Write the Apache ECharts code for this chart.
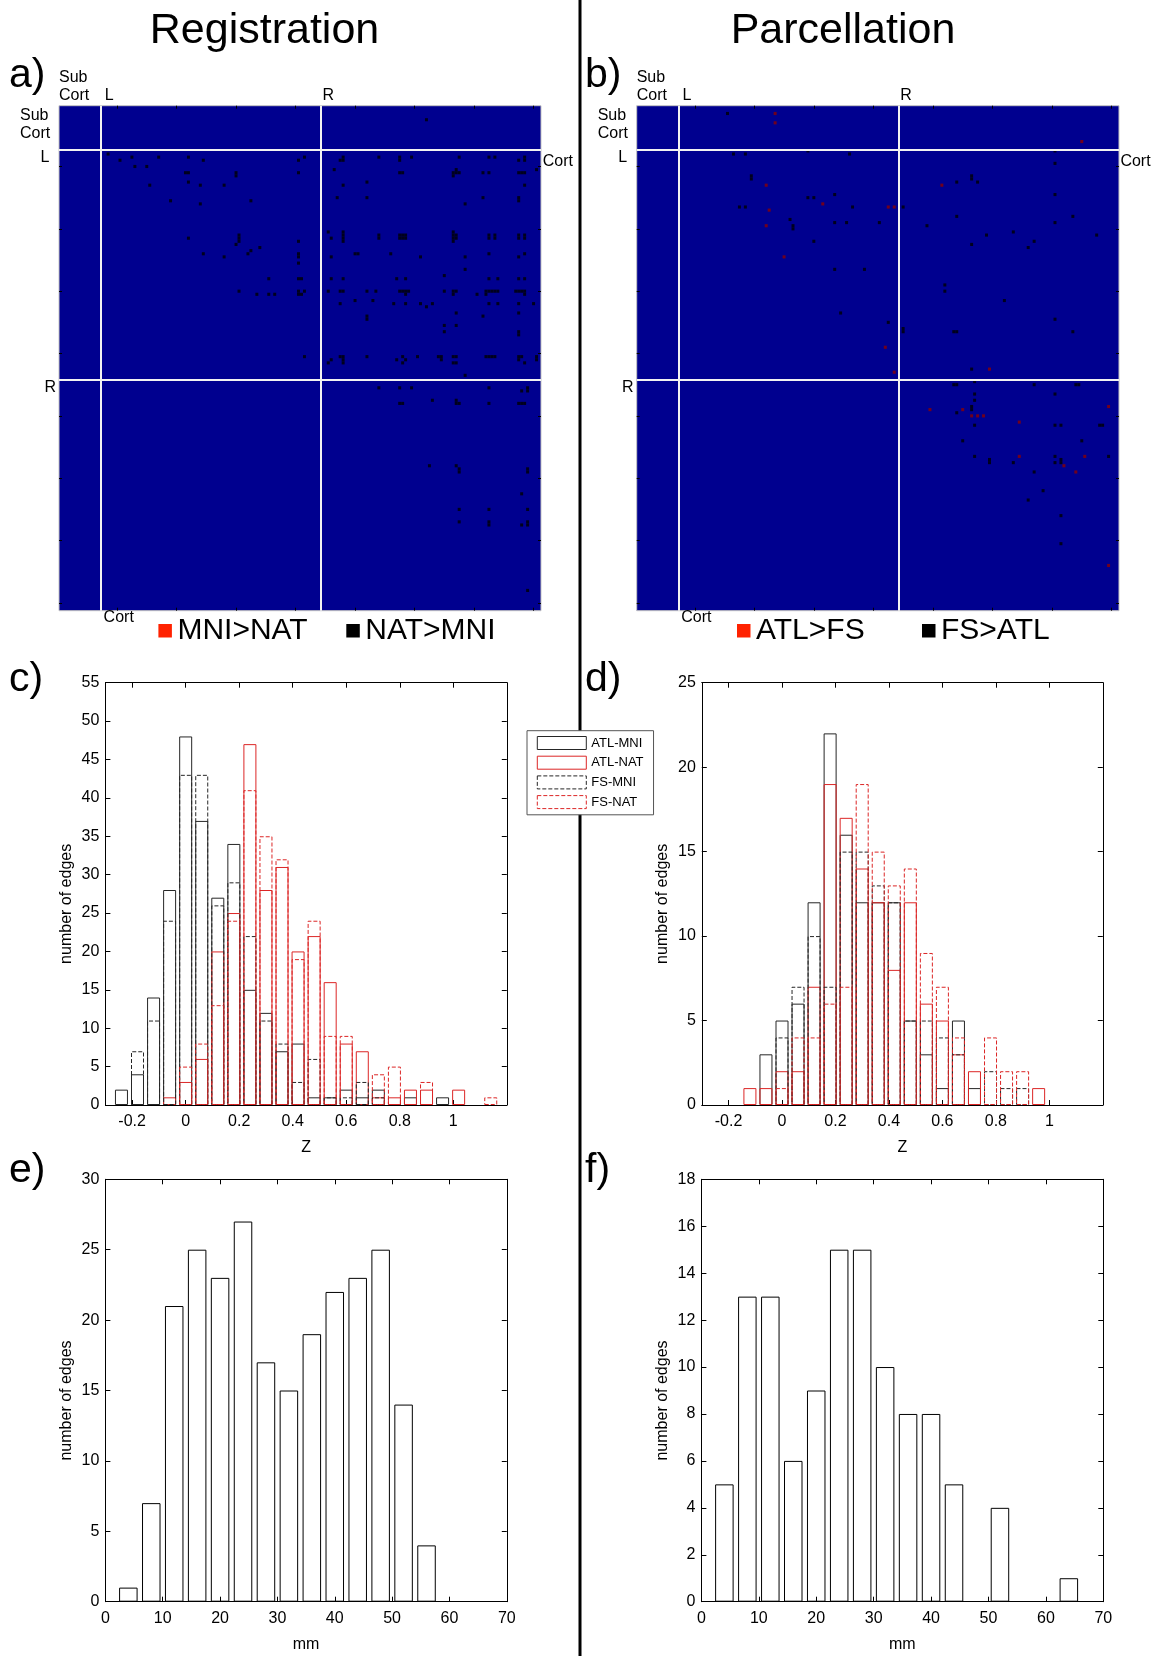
<!DOCTYPE html>
<html><head><meta charset="utf-8">
<script src="https://cdn.jsdelivr.net/npm/echarts@6/dist/echarts.min.js"></script>
<style>html,body{margin:0;padding:0;background:#fff}#chart{width:1155px;height:1656px}</style>
</head><body><div id="chart"></div>
<script>
// ---------------- DATA ----------------
const matrixSize = 162;              // 14 subcortical + 74 L + 74 R regions
const blockEdges = [14, 88];
const matrixTicks = [19.5, 39.5, 59.5, 79.5, 99.5, 119.5, 139.5, 159.5];

// panel a : [row, col] of significant edges
const regMniGtNat = [];
const regNatGtMni = [
[4,123],[15,16],
[16,24],[16,33],[16,43],[16,82],[16,95],[16,107],[16,114],[16,118],[16,134],[16,144],[16,146],[16,156],
[17,20],[17,48],[17,80],[17,94],[17,95],[17,114],[17,154],[17,156],
[19,25],[19,29],[20,92],[20,160],[20,133],
[21,42],[21,43],[21,59],[21,80],[21,114],[21,115],[21,132],[21,133],[21,134],[21,142],[21,144],[21,154],[21,155],[21,156],
[22,59],[22,132],[24,43],[24,103],
[25,30],[25,47],[25,55],[25,95],[25,156],
[29,93],[29,103],[29,142],[29,154],[30,37],[30,64],[30,154],[31,47],[31,136],
[40,90],[40,95],[40,132],
[41,60],[41,95],[41,107],[41,114],[41,115],[41,116],[41,132],[41,133],[41,144],[41,146],[41,154],[41,156],
[42,43],[42,91],[42,60],[42,95],[42,107],[42,114],[42,115],[42,116],[42,132],[42,133],[42,144],[42,146],[42,154],[42,156],
[43,60],[43,80],[43,95],[43,132],[44,59],[45,67],
[46,64],[47,63],[47,48],[47,80],[48,80],[50,80],
[47,99],[47,100],[47,111],[47,144],[47,156],
[48,55],[48,91],[48,121],[48,136],[48,154],[52,136],[54,129],
[55,70],[55,80],[55,81],[55,91],[55,95],[55,113],[55,116],[55,144],[55,147],[55,154],[55,156],
[59,60],[59,80],[60,80],[59,82],[60,81],
[59,90],[59,94],[59,95],[59,103],[59,106],[59,114],[59,115],[59,116],[59,117],[60,116],[59,129],[59,132],[59,133],[60,132],
[59,143],[60,143],[59,144],[59,145],[59,146],[59,147],[59,153],[59,154],[59,155],[59,156],[60,156],
[60,66],[60,70],[60,72],[60,140],[62,99],[62,105],
[63,94],[63,112],[63,116],[63,121],[63,125],[63,144],[63,147],[63,154],[63,159],[64,123],
[66,133],[66,154],[67,142],[67,103],[68,103],[70,129],[70,133],[72,129],[72,154],[73,154],
[80,82],[80,94],[80,95],[81,95],[82,95],[80,103],[80,115],[81,116],[82,115],[80,120],[80,127],[80,128],[81,128],
[80,132],[80,133],[80,143],[80,144],[80,145],[80,146],[80,154],[80,155],[81,154],[82,156],[80,160],[81,160],
[81,113],[81,91],[82,90],[82,132],[82,133],[86,136],
[90,107],[90,114],[90,118],[90,144],[90,157],[91,157],[91,155],[94,125],[94,133],
[95,114],[95,115],[95,133],[95,134],[95,144],[95,154],[95,155],[95,156],
[115,124],[115,133],[116,134],[117,134],[116,157],[117,157],[124,155],
[129,134],[129,144],[129,157],[133,134],[133,144],[134,144],[133,157],[134,157],[134,155],[155,157]
];

// panel b
const parcAtlGtFs = [
[2,46],[5,46],[11,149],[25,43],[25,102],[31,62],[33,44],[32,84],[32,86],[38,43],[48,49],[77,83],[85,86],[84,118],
[97,98],[97,109],[96,158],[99,112],[99,114],[99,116],[101,128],[112,128],[115,143],[112,150],[117,147],[147,158]
];
const parcFsGtAtl = [
[2,30],[15,32],[15,36],[14,57],[15,71],[14,140],[18,140],[22,38],[23,38],[24,107],[22,112],[23,112],[24,114],
[29,57],[29,59],[28,66],[28,140],[32,34],[32,36],[32,72],[32,89],[35,107],[35,146],[36,51],[38,52],[39,52],
[37,66],[37,70],[37,81],[38,97],[37,140],[41,117],[40,126],[41,154],[43,133],[45,131],[44,112],[43,59],
[52,66],[52,76],[57,103],[59,103],[62,123],[66,68],[68,140],[69,84],[71,89],[72,89],[72,106],[72,107],[72,146],
[84,112],[89,106],[89,107],[88,113],[89,133],[89,147],[89,148],[92,113],[92,140],[94,113],[96,112],[97,112],
[98,107],[102,113],[102,140],[102,142],[102,155],[102,156],[107,109],[107,149],[112,113],[113,118],[114,118],
[114,126],[112,140],[114,140],[113,142],[114,142],[112,158],[117,133],[123,136],[126,131],[131,142],[140,142]
];

// panels c, d : histogram of Z
const zBinCenters = [-0.24,-0.18,-0.12,-0.06,0,0.06,0.12,0.18,0.24,0.30,0.36,0.42,0.48,0.54,0.60,0.66,0.72,0.78,0.84,0.90,0.96,1.02,1.08,1.14];
const zTickValues = [-0.2, 0, 0.2, 0.4, 0.6, 0.8, 1];
const regAtlMni = [2,4,14,28,48,37,27,34,15,12,7,8,1,1,2,1,2,0,1,0,1,0,0,0];
const regAtlNat = [0,0,0,1,3,6,20,25,47,28,31,20,22,16,8,7,1,1,2,2,0,2,0,0];
const regFsMni  = [0,7,11,24,43,43,26,29,22,11,8,3,6,1,1,3,1,0,0,0,0,0,0,0];
const regFsNat  = [0,0,0,0,5,8,13,24,41,35,32,19,24,9,9,0,4,5,0,3,0,0,0,1];
const parAtlMni = [0,0,0,3,5,6,12,22,16,12,12,12,5,3,1,5,1,0,0,0,0,0,0,0];
const parAtlNat = [0,0,1,1,2,2,7,19,17,14,12,8,12,6,5,3,2,0,0,0,1,0,0,0];
const parFsMni  = [0,0,0,0,4,7,10,7,15,15,13,12,5,5,4,3,0,2,1,1,0,0,0,0];
const parFsNat  = [0,0,0,0,1,4,4,6,7,19,15,13,14,9,7,4,0,4,2,2,0,0,0,0];

// panels e, f : histogram of distance (mm)
const distCentersE = [4,8,12,16,20,24,28,32,36,40,44,48,52,56];
const distCountsE  = [1,7,21,25,23,27,17,15,19,22,23,25,14,4];
const distCentersF = [4,8,12,16,20,24,28,32,36,40,44,48,52,56,60,64];
const distCountsF  = [5,13,13,6,9,15,15,10,8,8,5,0,4,0,0,1];

// ---------------- BUILD ----------------
const FONT = '"Liberation Sans", Arial, Helvetica, sans-serif';
const DASH = [4, 2];
const grids = [], xAxes = [], yAxes = [], series = [];

function toXY(xs, ys) { const out = []; xs.forEach((x, i) => { if (ys[i] > 0) out.push([x, ys[i]]); }); return out; }
function cells(pairs) { return pairs.map(p => [p[1] + 0.5, p[0] + 0.5]); }

function addMatrix(g) {
  const gi = grids.length;
  grids.push({ left: g.left, top: g.top, width: g.width, height: g.height, show: true,
    backgroundColor: '#00008F', borderColor: '#c4c4c4', borderWidth: 1 });
  const tick = { show: true, inside: true, length: 3, customValues: matrixTicks, lineStyle: { color: '#000', width: 1 } };
  const xi = xAxes.length;
  ['top', 'bottom'].forEach(pos => xAxes.push({ gridIndex: gi, type: 'value', min: 0, max: matrixSize, position: pos,
    axisLine: { show: false, onZero: false }, axisTick: tick, axisLabel: { show: false }, splitLine: { show: false } }));
  const yi = yAxes.length;
  ['left', 'right'].forEach(pos => yAxes.push({ gridIndex: gi, type: 'value', min: 0, max: matrixSize, inverse: true, position: pos,
    axisLine: { show: false, onZero: false }, axisTick: tick, axisLabel: { show: false }, splitLine: { show: false } }));
  series.push({ type: 'scatter', name: g.blackName, xAxisIndex: xi, yAxisIndex: yi, symbol: 'rect',
    symbolSize: [g.width / matrixSize, g.height / matrixSize], itemStyle: { color: '#000' }, data: cells(g.black), silent: true, z: 3,
    markLine: { silent: true, symbol: ['none', 'none'], label: { show: false }, lineStyle: { color: '#f2f2f2', width: 2, type: 'solid' },
      data: blockEdges.map(v => ({ xAxis: v })).concat(blockEdges.map(v => ({ yAxis: v }))) } });
  series.push({ type: 'scatter', name: g.redName, xAxisIndex: xi, yAxisIndex: yi, symbol: 'rect',
    symbolSize: [g.width / matrixSize, g.height / matrixSize], itemStyle: { color: '#8c0000' }, data: cells(g.red), silent: true, z: 4 });
}

function addHist(g) {
  const gi = grids.length;
  grids.push({ left: g.left, top: g.top, width: g.width, height: g.height, show: false });
  const line = { show: true, onZero: false, lineStyle: { color: '#000', width: 1 } };
  const xi = xAxes.length;
  const xt = { show: true, inside: true, length: 5, lineStyle: { color: '#000' } };
  const xl = { color: '#000', fontSize: 16, fontFamily: FONT, margin: 9 };
  if (g.xTicks) { xt.customValues = g.xTicks; xl.customValues = g.xTicks; }
  const xBase = { gridIndex: gi, type: 'value', min: g.xMin, max: g.xMax, axisLine: line, splitLine: { show: false } };
  if (g.xInterval) xBase.interval = g.xInterval;
  xAxes.push(Object.assign({}, xBase, { position: 'bottom', axisTick: xt, axisLabel: xl,
    name: g.xName, nameLocation: 'middle', nameGap: 35, nameTextStyle: { color: '#000', fontSize: 16, fontFamily: FONT } }));
  xAxes.push(Object.assign({}, xBase, { position: 'top', axisTick: xt, axisLabel: { show: false } }));
  const yi = yAxes.length;
  const yBase = { gridIndex: gi, type: 'value', min: 0, max: g.yMax, interval: g.yInterval, axisLine: line, splitLine: { show: false },
    axisTick: { show: true, inside: true, length: 5, lineStyle: { color: '#000' } } };
  yAxes.push(Object.assign({}, yBase, { position: 'left', axisLabel: { color: '#000', fontSize: 16, fontFamily: FONT, margin: 6 },
    name: 'number of edges', nameLocation: 'middle', nameGap: 31,
    nameTextStyle: { color: '#000', fontSize: 16, fontFamily: FONT, padding: [0, 20, 0, 0] } }));
  yAxes.push(Object.assign({}, yBase, { position: 'right', axisLabel: { show: false } }));
  g.sets.forEach(s => series.push({ type: 'bar', name: s.name, xAxisIndex: xi, yAxisIndex: yi, data: toXY(g.centers, s.values),
    barWidth: g.barWidth, barGap: '-100%', silent: true,
    itemStyle: { color: 'transparent', borderColor: s.color, borderWidth: 1, borderType: s.dash ? DASH : 'solid' } }));
}

addMatrix({ left: 59, top: 105.7, width: 482, height: 505, black: regNatGtMni, red: regMniGtNat, blackName: 'NAT>MNI', redName: 'MNI>NAT' });
addMatrix({ left: 636.7, top: 105.7, width: 482.3, height: 505, black: parcFsGtAtl, red: parcAtlGtFs, blackName: 'FS>ATL', redName: 'ATL>FS' });

const BLK = '#262626', RED = '#dc2626';
function zSets(a, b, c, d) {
  return [ { name: 'ATL-MNI', values: a, color: BLK }, { name: 'ATL-NAT', values: b, color: RED },
           { name: 'FS-MNI', values: c, color: BLK, dash: true }, { name: 'FS-NAT', values: d, color: RED, dash: true } ];
}
addHist({ left: 105.4, top: 682.7, width: 401.4, height: 422.3, xMin: -0.3, xMax: 1.2, xTicks: zTickValues, xName: 'Z',
  yMax: 55, yInterval: 5, centers: zBinCenters, barWidth: 13, sets: zSets(regAtlMni, regAtlNat, regFsMni, regFsNat) });
addHist({ left: 701.8, top: 682.7, width: 401, height: 422.3, xMin: -0.3, xMax: 1.2, xTicks: zTickValues, xName: 'Z',
  yMax: 25, yInterval: 5, centers: zBinCenters, barWidth: 13, sets: zSets(parAtlMni, parAtlNat, parFsMni, parFsNat) });
addHist({ left: 105.4, top: 1179.3, width: 401.4, height: 422.4, xMin: 0, xMax: 70, xInterval: 10, xName: 'mm',
  yMax: 30, yInterval: 5, centers: distCentersE, barWidth: 18.5, sets: [{ name: 'dist-reg', values: distCountsE, color: '#000' }] });
addHist({ left: 701.4, top: 1179.3, width: 401.9, height: 422.4, xMin: 0, xMax: 70, xInterval: 10, xName: 'mm',
  yMax: 18, yInterval: 2, centers: distCentersF, barWidth: 18.5, sets: [{ name: 'dist-parc', values: distCountsF, color: '#000' }] });

// ---------------- TEXT / DECORATION ----------------
function T(text, x, y, size, align) {
  return { type: 'text', x: x, y: y, z: 10, silent: true,
    style: { text: text, fontSize: size, fontFamily: FONT, fill: '#000', align: align || 'left', verticalAlign: 'middle' } };
}
const g = [];
g.push({ type: 'line', z: 1, silent: true, shape: { x1: 580, y1: 0, x2: 580, y2: 1656 }, style: { stroke: '#000', lineWidth: 3 } });
g.push(T('Registration', 264.5, 31, 43, 'center'));
g.push(T('Parcellation', 843, 31, 43, 'center'));
[['a)', 9, 76], ['b)', 585, 76], ['c)', 9, 680], ['d)', 585, 680], ['e)', 9, 1171], ['f)', 585, 1171]].forEach(p => g.push(T(p[0], p[1], p[2], 41, 'left')));
[0, 577.7].forEach(dx => {
  g.push(T('Sub', 59 + dx, 77.5, 16)); g.push(T('Cort', 59 + dx, 95.5, 16));
  g.push(T('L', 104.7 + dx, 95.5, 16)); g.push(T('R', 322.6 + dx, 95.5, 16));
  g.push(T('Sub', 20 + dx, 116, 16)); g.push(T('Cort', 20 + dx, 133.5, 16));
  g.push(T('L', 49.5 + dx, 158, 16, 'right')); g.push(T('R', 44.4 + dx, 387.5, 16));
  g.push(T('Cort', 542.7 + dx, 161.5, 16)); g.push(T('Cort', 103.6 + dx, 617.5, 16));
});
const keyItems = [['#ff2200', 158.4, 'MNI>NAT'], ['#000', 346.3, 'NAT>MNI'], ['#ff2200', 737, 'ATL>FS'], ['#000', 922, 'FS>ATL']];
keyItems.forEach(k => {
  g.push({ type: 'rect', z: 10, silent: true, shape: { x: k[1], y: 624, width: 13.5, height: 13.5 }, style: { fill: k[0] } });
  g.push(T(k[2], k[1] + 19, 631, 30, 'left'));
});

const option = {
  animation: false,
  textStyle: { fontFamily: FONT },
  grid: grids, xAxis: xAxes, yAxis: yAxes, series: series,
  legend: { data: [
      { name: 'ATL-MNI', itemStyle: { borderColor: BLK, borderType: 'solid' } },
      { name: 'ATL-NAT', itemStyle: { borderColor: RED, borderType: 'solid' } },
      { name: 'FS-MNI', itemStyle: { borderColor: BLK, borderType: DASH } },
      { name: 'FS-NAT', itemStyle: { borderColor: RED, borderType: DASH } } ],
    orient: 'vertical', left: 527, top: 730.7,
    itemWidth: 49, itemHeight: 13, itemGap: 5.7, icon: 'rect', padding: [5.3, 10, 5.7, 9.8],
    backgroundColor: '#fff', borderColor: '#555', borderWidth: 1, selectedMode: false, z: 20,
    itemStyle: { borderWidth: 1, color: 'transparent' },
    textStyle: { color: '#000', fontSize: 13, fontFamily: FONT, lineHeight: 13 } },
  graphic: { elements: g }
};
const chart = echarts.init(document.getElementById('chart'), null, { renderer: 'canvas' });
chart.setOption(option);
</script></body></html>
